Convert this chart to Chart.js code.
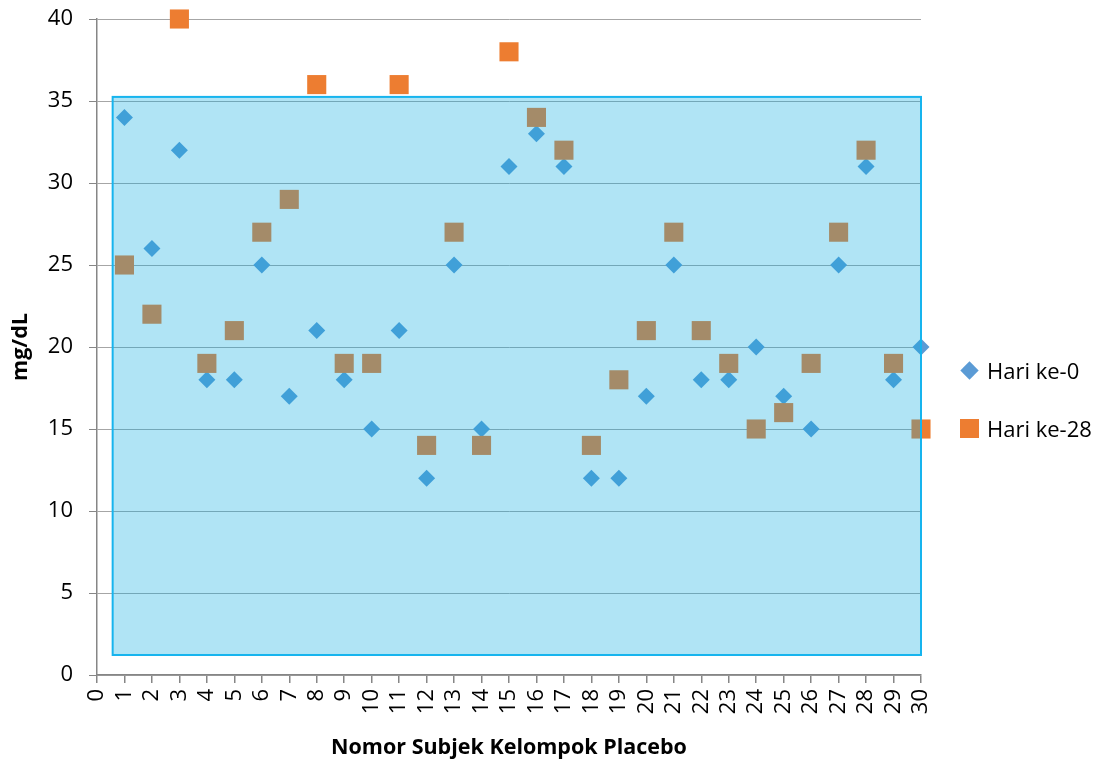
<!DOCTYPE html>
<html lang="id">
<head>
<meta charset="UTF-8">
<title>Nomor Subjek Kelompok Placebo</title>
<script src="https://cdn.jsdelivr.net/npm/chart.js"></script>
<style>
*{margin:0;padding:0;box-sizing:border-box;}
body{background:#fff;font-family:'Open Sans',sans-serif;}
.wrap{position:relative;width:1101px;height:765px;}
.legend{position:absolute;left:960px;top:355px;}
.item{display:flex;align-items:center;height:30px;margin-bottom:28px;font-size:22px;color:#000;}
.mark{width:19px;height:19px;margin-right:8px;flex:none;}
.mark.diamond{width:13px;height:13px;margin:0 11px 0 3px;transform:rotate(45deg);}
</style>
</head>
<body>
<div class="wrap">
<canvas id="chart"></canvas>
<div class="legend" id="legend"></div>
</div>

<script>
// subject numbers
const subjek = [1,2,3,4,5,6,7,8,9,10,11,12,13,14,15,16,17,18,19,20,21,22,23,24,25,26,27,28,29,30];
// mg/dL
const hariKe0  = [34,26,32,18,18,25,17,21,18,15,21,12,25,15,31,33,31,12,12,17,25,18,18,20,17,15,25,31,18,20];
const hariKe28 = [25,22,40,19,21,27,29,36,19,19,36,14,27,14,38,34,32,14,18,21,27,21,19,15,16,19,27,32,19,15];

const seriesNames = ["Hari ke-0","Hari ke-28"];
const seriesColors = ["#5b9bd5","#ed7d31"];

// blue shaded box (data units)
const shadeX = [0.57, 30];
const shadeY = [1.22, 35.25];

const gridGray = '#a6a6a6';
const axisGray = '#868686';

Chart.defaults.font.family = "'Open Sans', sans-serif";
Chart.defaults.color = '#000';

// translucent box drawn over the points
const shadePlugin = {
id:'shade',
afterDatasetsDraw(chart){
const {ctx, scales:{x,y}} = chart;
const l = x.getPixelForValue(shadeX[0]), r = x.getPixelForValue(shadeX[1]);
const t = y.getPixelForValue(shadeY[1]), b = y.getPixelForValue(shadeY[0]);
ctx.save();
ctx.fillStyle = 'rgba(8,170,224,0.32)';
ctx.fillRect(l,t,r-l,b-t);
ctx.strokeStyle = '#16b4ee';
ctx.lineWidth = 2;
ctx.strokeRect(l,t,r-l,b-t);
ctx.restore();
}
};

const toPoints = vals => vals.map((v,i)=>({x:subjek[i], y:v}));

new Chart(document.getElementById('chart'),{
type:'scatter',
data:{
datasets:[
{label:seriesNames[0],data:toPoints(hariKe0),pointStyle:'rectRot',pointRadius:8.5,pointHoverRadius:8.5,
 backgroundColor:seriesColors[0],borderColor:seriesColors[0],borderWidth:0,order:1,clip:false},
{label:seriesNames[1],data:toPoints(hariKe28),pointStyle:'rect',pointRadius:13.5,pointHoverRadius:13.5,
 backgroundColor:seriesColors[1],borderColor:seriesColors[1],borderWidth:0,order:0,clip:false}
]
},
options:{
responsive:true,
maintainAspectRatio:false,
animation:false,
layout:{autoPadding:false,padding:{top:0,right:180,bottom:0,left:0}},
plugins:{legend:{display:false},tooltip:{enabled:false}},
scales:{
x:{
type:'linear',min:0,max:30,
afterFit(s){s.height = 90;},
ticks:{stepSize:1,autoSkip:false,minRotation:90,maxRotation:90,padding:6,font:{size:22}},
grid:{drawOnChartArea:false,drawTicks:true,tickLength:8,color:axisGray,lineWidth:1.5},
border:{color:axisGray,width:1.5},
title:{display:true,text:'Nomor Subjek Kelompok Placebo',font:{size:21.5,weight:'bold'},padding:{top:0,bottom:4}}
},
y:{
min:0,max:40,
afterFit(s){s.width = 97;s.paddingTop = 19;s.paddingBottom = 14;},
ticks:{stepSize:5,padding:16,font:{size:22}},
grid:{color:gridGray,lineWidth:1,tickLength:8,tickColor:axisGray},
border:{color:axisGray,width:1.5},
title:{display:true,text:'mg/dL',font:{size:21.5,weight:'bold'},padding:{top:8,bottom:0}}
}
}
},
plugins:[shadePlugin]
});

// legend
const legend = document.getElementById('legend');
seriesNames.forEach((name,i)=>{
const item = document.createElement('div');
item.className = 'item';
const mark = document.createElement('span');
mark.className = 'mark' + (i===0 ? ' diamond' : '');
mark.style.background = seriesColors[i];
item.appendChild(mark);
item.appendChild(document.createTextNode(name));
legend.appendChild(item);
});
</script>
</body>
</html>
